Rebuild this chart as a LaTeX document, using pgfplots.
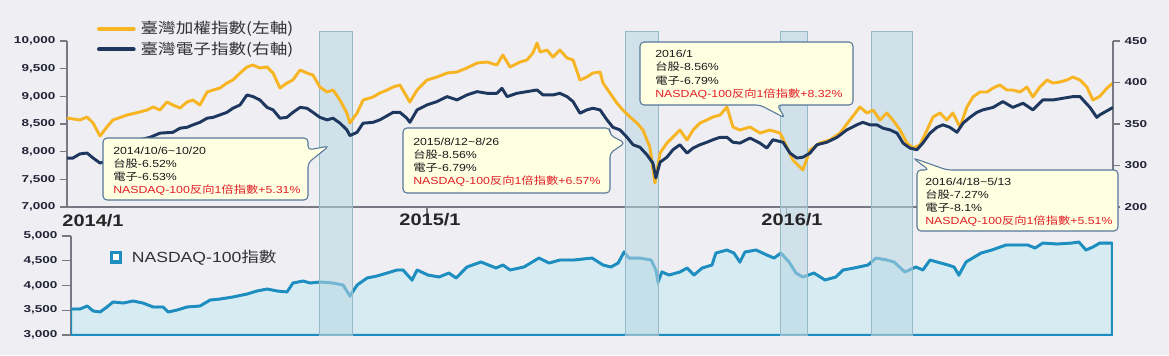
\documentclass[border=0pt]{standalone}
\usepackage{pgfplots}
\usepackage{pgfplotstable}
\pgfplotsset{compat=1.18}
\usepackage{fontspec}
\setmainfont{Liberation Sans}[FakeStretch=1.2]
\newfontfamily\cjk{Noto Sans CJK TC}[FakeStretch=1.2]
\newfontfamily\tickfont{Liberation Sans}[FakeStretch=1.35]

\definecolor{bg}{RGB}{238,238,243}
\definecolor{taiex}{RGB}{247,180,35}
\definecolor{elec}{RGB}{30,55,95}
\definecolor{ndx}{RGB}{30,142,192}
\definecolor{ndxfill}{RGB}{214,236,242}
\definecolor{band}{RGB}{185,215,228}
\definecolor{bandline}{RGB}{150,185,200}
\definecolor{callfill}{RGB}{255,255,226}
\definecolor{callline}{RGB}{85,120,155}
\definecolor{callred}{RGB}{228,30,38}
\definecolor{axisgray}{RGB}{120,120,130}
\definecolor{ticktext}{RGB}{35,35,55}
\definecolor{legtext}{RGB}{50,50,50}

\pgfplotstableread{
m v
0.00 8608
0.43 8572
0.67 8626
0.87 8518
1.10 8283
1.33 8446
1.53 8572
2.00 8662
2.43 8717
2.67 8753
2.87 8807
3.10 8753
3.33 8897
3.53 8843
3.77 8789
4.00 8897
4.20 8933
4.43 8843
4.67 9078
4.87 9114
5.10 9150
5.33 9240
5.53 9295
5.77 9421
6.00 9530
6.20 9566
6.43 9512
6.67 9530
6.87 9421
7.10 9150
7.33 9240
7.53 9295
7.77 9476
8.00 9421
8.20 9385
8.43 9168
8.67 9078
8.87 9114
9.10 8933
9.33 8699
9.43 8518
9.67 8699
9.87 8933
10.20 8988
10.43 9060
10.67 9114
10.87 9168
11.10 9205
11.33 8988
11.43 8897
11.67 9114
12.00 9295
12.33 9349
12.67 9421
13.00 9440
13.33 9512
13.67 9602
14.00 9620
14.33 9566
14.53 9747
14.77 9530
15.10 9620
15.33 9656
15.53 9783
15.67 9963
15.77 9801
16.00 9837
16.20 9710
16.43 9837
16.67 9692
16.87 9656
17.10 9295
17.33 9349
17.53 9421
17.77 9440
17.87 9240
18.10 9060
18.33 8879
18.53 8753
18.77 8626
19.00 8518
19.20 8391
19.43 8084
19.60 7434
19.77 7976
20.00 8157
20.20 8265
20.43 8391
20.67 8211
20.87 8391
21.10 8518
21.33 8572
21.53 8626
21.77 8662
22.00 8807
22.20 8446
22.43 8391
22.77 8446
23.10 8337
23.43 8391
23.77 8337
24.00 8084
24.20 7849
24.53 7669
24.77 8030
25.10 8157
25.43 8211
25.77 8337
26.10 8572
26.43 8807
26.67 8699
26.87 8753
27.10 8572
27.33 8699
27.53 8572
27.77 8391
28.00 8157
28.20 8066
28.43 8120
28.67 8391
28.87 8626
29.10 8699
29.33 8572
29.53 8699
29.77 8446
30.00 8807
30.20 8988
30.43 9078
30.67 9078
30.87 9150
31.10 9205
31.33 9114
31.53 9114
31.77 9078
32.00 9168
32.20 8988
32.43 9168
32.67 9295
32.87 9240
33.10 9259
33.33 9295
33.53 9349
33.77 9295
34.00 9168
34.20 8933
34.43 9000
34.67 9150
34.87 9240
}\taiexdata

\pgfplotstableread{
m v
0.00 309
0.20 309
0.43 314
0.67 315
0.87 309
1.10 303
1.43 306
1.93 319
2.43 331
2.77 334
3.10 339
3.53 340
3.77 345
4.00 346
4.20 349
4.43 352
4.67 357
4.87 358
5.10 361
5.33 364
5.53 369
5.77 373
6.00 385
6.20 383
6.43 379
6.67 370
6.87 367
7.10 357
7.33 358
7.53 364
7.77 370
8.00 369
8.20 364
8.43 358
8.67 355
8.87 357
9.10 351
9.33 343
9.43 336
9.67 340
9.87 351
10.20 352
10.43 355
10.87 364
11.10 364
11.33 357
11.43 352
11.67 367
12.00 373
12.33 377
12.67 383
13.00 379
13.33 385
13.67 389
14.00 387
14.33 387
14.50 393
14.67 383
15.00 387
15.33 389
15.67 391
15.87 385
16.20 385
16.43 387
16.67 383
16.87 377
17.10 363
17.33 367
17.53 369
17.77 367
18.00 355
18.20 346
18.43 343
18.67 334
18.87 325
19.10 322
19.33 313
19.53 303
19.63 285
19.77 304
20.00 310
20.20 319
20.43 325
20.67 315
20.87 321
21.10 325
21.33 328
21.53 331
21.77 334
22.00 334
22.20 328
22.43 327
22.77 333
23.10 327
23.33 321
23.53 331
23.87 328
24.10 315
24.33 309
24.53 310
24.77 315
25.00 325
25.33 328
25.67 334
26.00 343
26.33 349
26.53 352
26.77 349
27.00 349
27.20 345
27.43 343
27.67 339
27.87 327
28.10 321
28.33 319
28.53 327
28.77 339
29.00 346
29.20 349
29.43 346
29.67 340
29.87 351
30.10 358
30.33 364
30.53 367
30.87 370
31.20 377
31.53 370
31.87 375
32.20 367
32.53 379
32.87 379
33.20 381
33.53 383
33.77 383
34.10 370
34.33 358
34.43 361
34.87 370
}\elecdata

\pgfplotstableread{
m v
0.13 3525
0.43 3525
0.67 3586
0.87 3485
1.10 3465
1.33 3566
1.53 3667
1.87 3646
2.20 3687
2.53 3646
2.87 3566
3.20 3566
3.37 3465
3.67 3505
4.00 3566
4.43 3586
4.77 3707
5.10 3727
5.53 3768
6.00 3828
6.33 3889
6.67 3929
7.00 3889
7.33 3869
7.53 4050
7.87 4091
8.10 4050
8.43 4071
8.87 4050
9.20 4010
9.43 3788
9.67 4010
10.00 4151
10.33 4192
10.67 4252
11.00 4313
11.20 4313
11.50 4111
11.67 4313
12.03 4212
12.40 4172
12.73 4252
12.97 4151
13.33 4374
13.80 4475
14.30 4353
14.53 4414
14.77 4313
15.23 4374
15.73 4555
16.07 4454
16.43 4515
16.90 4515
17.50 4555
17.87 4414
18.13 4374
18.37 4454
18.57 4677
18.73 4555
19.10 4555
19.47 4515
19.63 4313
19.70 4071
19.83 4273
20.07 4212
20.43 4273
20.67 4353
20.90 4212
21.17 4353
21.50 4414
21.63 4656
22.00 4717
22.23 4656
22.43 4475
22.60 4677
22.97 4717
23.33 4616
23.57 4555
23.80 4656
24.07 4475
24.30 4252
24.53 4172
24.90 4252
25.27 4111
25.63 4172
25.87 4313
26.23 4353
26.70 4414
26.97 4555
27.33 4515
27.57 4475
27.93 4273
28.30 4374
28.53 4313
28.77 4515
29.00 4475
29.37 4414
29.57 4374
29.73 4212
29.97 4475
30.47 4656
30.83 4717
31.30 4818
32.03 4818
32.27 4757
32.53 4858
33.00 4838
33.50 4858
33.73 4879
33.97 4717
34.20 4778
34.43 4858
34.83 4858
}\ndxdata

\pgfplotsset{
  tickset/.style={
    scale only axis,
    tick align=outside,
    major tick length=5.25pt,
    tick style={draw=axisgray, line width=0.8pt},
    yticklabel style={font=\tickfont\bfseries\fontsize{7.5}{9}\selectfont, text=ticktext},
    scaled y ticks=false,
    /pgf/number format/1000 sep={,},
    /pgf/number format/assume math mode=true,
  }
}

\begin{document}
\begin{tikzpicture}
\fill[bg] (0,0) rectangle (876.75pt,266.25pt);
\useasboundingbox (0,0) rectangle (876.75pt,266.25pt);

% ---------- bottom panel: NASDAQ-100 ----------
\begin{axis}[tickset,
  at={(53.25pt,15pt)}, anchor=south west,
  width=781.5pt, height=74.25pt,
  xmin=0.13, xmax=34.87, ymin=3000, ymax=5000,
  axis y line*=left, axis x line*=bottom,
  y axis line style={draw=axisgray, line width=1pt, -},
  x axis line style={draw=ndx, line width=2pt, -},
  xtick=\empty,
  ytick={3000,3500,...,5000},
  major tick length=6.75pt,
  legend style={at={(0.037,0.788)}, anchor=west, draw=none, fill=none,
    inner sep=0pt, outer sep=0pt,
    font=\fontsize{11}{12}\selectfont, text=legtext},
  legend image code/.code={\draw[draw=ndx, fill=white, line width=2.4pt] (1.2pt,-3.7pt) rectangle (8.5pt,3.6pt); \path (14.5pt,0pt);},
]
\addplot[draw=ndx, line width=1.6pt, fill=ndxfill, forget plot] table[x=m,y=v] {\ndxdata} \closedcycle;
\addplot[draw=ndx, line width=2.2pt, line join=round, forget plot] table[x=m,y=v] {\ndxdata};
\addlegendimage{ndx}
\addlegendentry{NASDAQ-100{\cjk 指數}}
\end{axis}

% ---------- top panel: TAIEX (left axis) ----------
\begin{axis}[tickset,
  at={(50.25pt,111pt)}, anchor=south west,
  width=784.5pt, height=124.5pt,
  xmin=0, xmax=34.87, ymin=7000, ymax=10000,
  axis x line*=bottom, axis y line*=left,
  axis line style={draw=axisgray, line width=0.8pt, -},
  xtick={12,24}, xticklabels={}, major tick length=5.25pt,
  ytick={7000,7500,...,10000},
  clip=false,
  legend style={at={(0.0287,1.122)}, anchor=north west, draw=none, fill=none,
    inner sep=0pt, outer sep=0pt, row sep=3.5pt,
    nodes={inner sep=0.6pt},
    font=\cjk\fontsize{11}{13}\selectfont, text=legtext},
  legend cell align=left,
  legend image code/.code={\draw[#1, line width=3pt, line cap=round] (2pt,0pt) -- (28pt,0pt); \path (31.5pt,0pt);},
]
% shaded periods
\fill[band, fill opacity=0.55] (axis cs:8.40,4687) rectangle (axis cs:9.50,10181);
\fill[band, fill opacity=0.55] (axis cs:18.60,4687) rectangle (axis cs:19.73,10181);
\fill[band, fill opacity=0.55] (axis cs:23.77,4687) rectangle (axis cs:24.67,10181);
\fill[band, fill opacity=0.55] (axis cs:26.80,4687) rectangle (axis cs:28.17,10181);
\draw[bandline, line width=0.6pt] (axis cs:8.40,4687) rectangle (axis cs:9.50,10181);
\draw[bandline, line width=0.6pt] (axis cs:18.60,4687) rectangle (axis cs:19.73,10181);
\draw[bandline, line width=0.6pt] (axis cs:23.77,4687) rectangle (axis cs:24.67,10181);
\draw[bandline, line width=0.6pt] (axis cs:26.80,4687) rectangle (axis cs:28.17,10181);
\addplot[taiex, line width=2.2pt, line join=round] table[x=m,y=v] {\taiexdata};
\addlegendentry{臺灣加權指數(左軸)}
\addlegendimage{elec, line width=2.2pt}
\addlegendentry{臺灣電子指數(右軸)}
\end{axis}

% ---------- top panel: electronics (right axis) ----------
\begin{axis}[tickset,
  at={(50.25pt,111pt)}, anchor=south west,
  width=784.5pt, height=124.5pt,
  xmin=0, xmax=34.87, ymin=250, ymax=450,
  axis y line*=right, axis x line=none,
  axis line style={draw=axisgray, line width=0.8pt, -},
  ytick={250,300,350,400,450},
  yticklabels={200,300,350,400,450},
]
\addplot[elec, line width=2.2pt, line join=round] table[x=m,y=v] {\elecdata};
\end{axis}

% ---------- annotations (pixel coordinates, y downwards) ----------
\begin{scope}[shift={(0,266.25pt)}, x=0.75pt, y=-0.75pt]
\tikzset{callout/.style={fill=callfill, draw=callline, line width=0.8pt, rounded corners=3pt},
  cl/.style={anchor=base west, inner sep=0pt, font=\fontsize{7.7}{9}\selectfont, text=black!90},
  cr/.style={cl, text=callred},
  yr/.style={anchor=base, inner sep=0pt, font=\bfseries\fontsize{12.5}{14}\selectfont, text=black!85}}

\node[yr] at (93,226) {2014/1};
\node[yr] at (430,225) {2015/1};
\node[yr] at (792,225) {2016/1};

\draw[callout] (103,138) -- (308,138) -- (308,150) -- (329,146) -- (308,163) -- (308,200) -- (103,200) -- cycle;
\node[cl] at (113,154) {2014/10/6\textasciitilde10/20};
\node[cl] at (113,167.3) {{\cjk 台股}-6.52\%};
\node[cl] at (113,180.6) {{\cjk 電子}-6.53\%};
\node[cr] at (113,193.9) {NASDAQ-100{\cjk 反向}1{\cjk 倍指數}+5.31\%};

\draw[callout] (403,128) -- (610,128) -- (610,135) -- (625,143) -- (610,153) -- (610,193) -- (403,193) -- cycle;
\node[cl] at (413,145) {2015/8/12\textasciitilde8/26};
\node[cl] at (413,158.3) {{\cjk 台股}-8.56\%};
\node[cl] at (413,171.6) {{\cjk 電子}-6.79\%};
\node[cr] at (413,184.9) {NASDAQ-100{\cjk 反向}1{\cjk 倍指數}+6.57\%};

\draw[callout] (640,42) -- (853,42) -- (853,105) -- (777,105) -- (785,118) -- (760,105) -- (640,105) -- cycle;
\node[cl] at (655,57.5) {2016/1};
\node[cl] at (655,70.8) {{\cjk 台股}-8.56\%};
\node[cl] at (655,84.1) {{\cjk 電子}-6.79\%};
\node[cr] at (655,97.4) {NASDAQ-100{\cjk 反向}1{\cjk 倍指數}+8.32\%};

\draw[callout] (917,170) -- (929,170) -- (913,158) -- (947,170) -- (1118,170) -- (1118,231) -- (917,231) -- cycle;
\node[cl] at (925,185) {2016/4/18\textasciitilde5/13};
\node[cl] at (925,198.3) {{\cjk 台股}-7.27\%};
\node[cl] at (925,211.6) {{\cjk 電子}-8.1\%};
\node[cr] at (925,224.9) {NASDAQ-100{\cjk 反向}1{\cjk 倍指數}+5.51\%};
\end{scope}
\end{tikzpicture}
\end{document}
